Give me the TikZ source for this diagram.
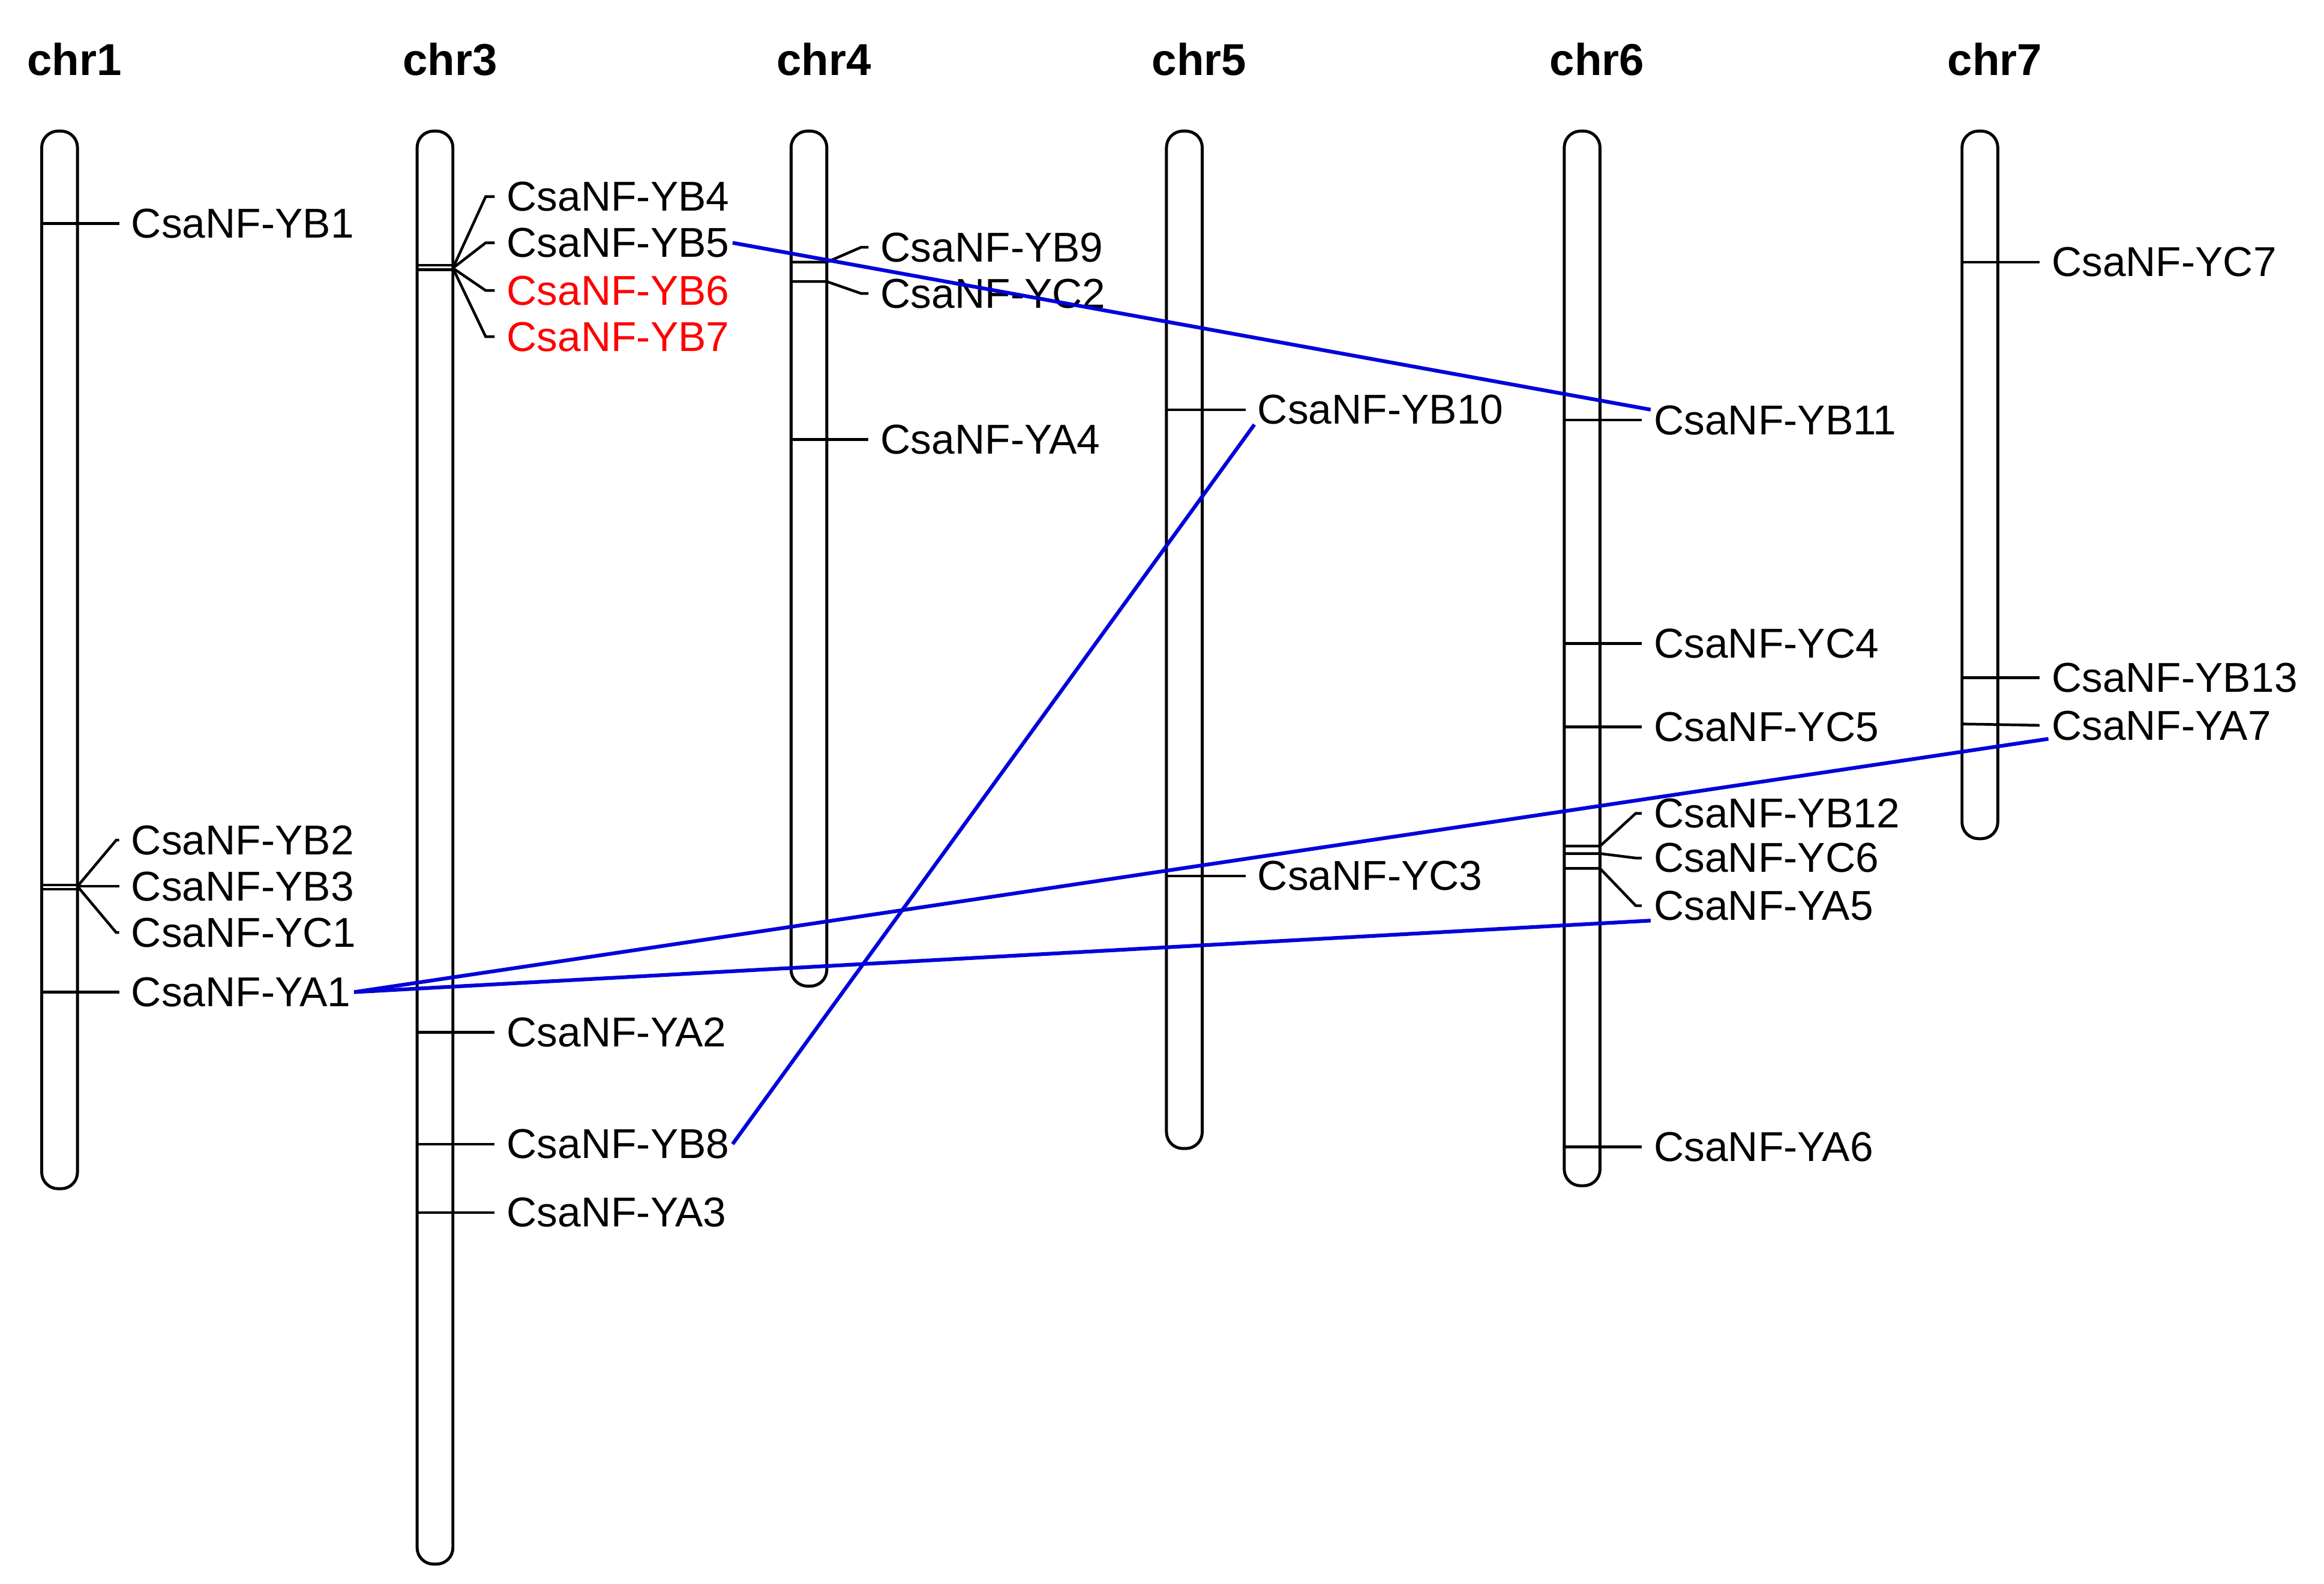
\documentclass[tikz,border=0pt]{standalone}
\usepackage{fontspec}
\setmainfont{Liberation Sans}
\usetikzlibrary{positioning}

\tikzset{
  chrom/.style={draw,line width=2pt,rounded corners=11pt,minimum width=24pt,inner sep=0pt},
  title/.style={font=\fontsize{30}{32}\selectfont\bfseries},
  gene/.style={anchor=west,inner sep=2pt,font=\fontsize{28}{30}\selectfont},
  hot/.style={gene,text=red},
  tick/.style={line width=1.8pt,shorten >=6pt},
  link/.style={line width=2.5pt,blue!85!black}
}

\begin{document}
\begin{tikzpicture}[x=1pt,y=-1pt]
    \useasboundingbox (0,0) rectangle (1560,1063);

    % CHROMOSOMES
    \foreach \name/\cx/\top/\bot in {1/40/88/798,3/292/88/1050,4/543/88/662,
                                     5/795/88/771,6/1062/88/796,7/1329/88/563}{
      \node[chrom,minimum height={(\bot-\top)*1pt}] (CHR\name) at (\cx,{(\top+\bot)/2}) {};
      \node[title] (T\name) at ({\cx+10},40) {chr\name};
    }

    % CHR1
    \node[gene] (YB1) at (86,150) {CsaNF-YB1};
    \node[gene] (YB2) at (86,564) {CsaNF-YB2};
    \node[gene] (YB3) at (86,595) {CsaNF-YB3};
    \node[gene] (YC1) at (86,626) {CsaNF-YC1};
    \node[gene] (YA1) at (86,666) {CsaNF-YA1};
    \draw[tick] (28,150) -- (YB1.west);
    \draw[tick,shorten >=0pt] (28,594) -- (52,594) (28,597) -- (52,597);
    \draw[tick] (52,595) -- (78,564) -- (YB2.west);
    \draw[tick] (52,595) -- (YB3.west);
    \draw[tick] (52,595) -- (78,626) -- (YC1.west);
    \draw[tick] (28,666) -- (YA1.west);

    % CHR3
    \node[gene] (YB4) at (338,132) {CsaNF-YB4};
    \node[gene] (YB5) at (338,163) {CsaNF-YB5};
    \node[hot]  (YB6) at (338,195) {CsaNF-YB6};
    \node[hot]  (YB7) at (338,226) {CsaNF-YB7};
    \node[gene] (YA2) at (338,693) {CsaNF-YA2};
    \node[gene] (YB8) at (338,768) {CsaNF-YB8};
    \node[gene] (YA3) at (338,814) {CsaNF-YA3};
    \draw[tick,shorten >=0pt] (280,178) -- (304,178) (280,181) -- (304,181);
    \foreach \g/\y in {YB4/132,YB5/163,YB6/195,YB7/226}{
      \draw[tick] (304,180) -- (326,\y) -- (\g.west);
    }
    \draw[tick] (280,693) -- (YA2.west);
    \draw[tick] (280,768) -- (YB8.west);
    \draw[tick] (280,814) -- (YA3.west);

    % CHR4
    \node[gene] (YB9) at (589,166) {CsaNF-YB9};
    \node[gene] (YC2) at (589,197) {CsaNF-YC2};
    \node[gene] (YA4) at (589,295) {CsaNF-YA4};
    \draw[tick] (531,176) -- (555,176) -- (578,166) -- (YB9.west);
    \draw[tick] (531,189) -- (555,189) -- (578,197) -- (YC2.west);
    \draw[tick] (531,295) -- (YA4.west);

    % CHR5
    \node[gene] (YB10) at (842,275) {CsaNF-YB10};
    \node[gene] (YC3) at (842,588) {CsaNF-YC3};
    \draw[tick] (783,275) -- (YB10.west);
    \draw[tick] (783,588) -- (YC3.west);

    % CHR6
    \node[gene] (YB11) at (1108,282) {CsaNF-YB11};
    \node[gene] (YC4) at (1108,432) {CsaNF-YC4};
    \node[gene] (YC5) at (1108,488) {CsaNF-YC5};
    \node[gene] (YB12) at (1108,546) {CsaNF-YB12};
    \node[gene] (YC6) at (1108,576) {CsaNF-YC6};
    \node[gene] (YA5) at (1108,608) {CsaNF-YA5};
    \node[gene] (YA6) at (1108,770) {CsaNF-YA6};
    \draw[tick] (1050,282) -- (YB11.west);
    \draw[tick] (1050,432) -- (YC4.west);
    \draw[tick] (1050,488) -- (YC5.west);
    \draw[tick] (1050,568) -- (1074,568) -- (1098,546) -- (YB12.west);
    \draw[tick] (1050,573) -- (1074,573) -- (1098,576) -- (YC6.west);
    \draw[tick] (1050,583) -- (1074,583) -- (1098,608) -- (YA5.west);
    \draw[tick] (1050,770) -- (YA6.west);

    % CHR7
    \node[gene] (YC7) at (1375,176) {CsaNF-YC7};
    \node[gene] (YB13) at (1375,455) {CsaNF-YB13};
    \node[gene] (YA7) at (1375,487) {CsaNF-YA7};
    \draw[tick] (1317,176) -- (YC7.west);
    \draw[tick] (1317,455) -- (YB13.west);
    \draw[tick] (1317,486) -- (YA7.west);

    % LINKS
    \draw[link] (YB5.east) -- ([yshift=7pt]YB11.west);
    \draw[link] ([yshift=-10pt]YB10.west) -- (YB8.east);
    \draw[link] (YA1.east) -- ([yshift=-9pt]YA7.west);
    \draw[link] (YA1.east) -- ([yshift=-10pt]YA5.west);
\end{tikzpicture}
\end{document}
